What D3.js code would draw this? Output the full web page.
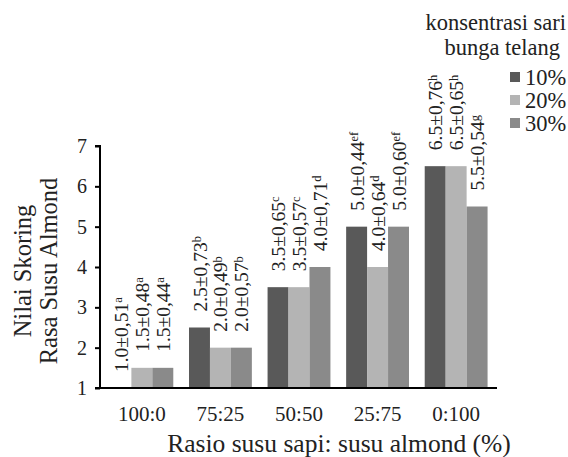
<!DOCTYPE html>
<html>
<head>
<meta charset="utf-8">
<script src="https://cdn.jsdelivr.net/npm/d3@7"></script>
<style>
  body { margin: 0; background: #fff; }
  svg { display: block; font-family: 'Liberation Serif', 'Times New Roman', serif; }
</style>
</head>
<body>
<div id="chart"></div>
<script>
// data
const ratios = ['100:0', '75:25', '50:50', '25:75', '0:100'];
const concentrations = ['10%', '20%', '30%'];
const values10 = [1.0, 2.5, 3.5, 5.0, 6.5];
const values20 = [1.5, 2.0, 3.5, 4.0, 6.5];
const values30 = [1.5, 2.0, 4.0, 5.0, 5.5];
const sd10 = ['0,51', '0,73', '0,65', '0,44', '0,76'];
const sd20 = ['0,48', '0,49', '0,57', '0,64', '0,65'];
const sd30 = ['0,44', '0,57', '0,71', '0,60', '0,54'];
const letters10 = ['a', 'b', 'c', 'ef', 'h'];
const letters20 = ['a', 'b', 'c', 'd', 'h'];
const letters30 = ['a', 'b', 'd', 'ef', 'g'];
const yTicks = [1, 2, 3, 4, 5, 6, 7];

const colors = ['#595959', '#b4b4b4', '#8a8a8a'];

const width = 568, height = 457;
const svg = d3.select('#chart')
    .append('svg')
    .attr('width', width)
    .attr('height', height);

// one row per bar
const series = [
    { values: values10, sd: sd10, letters: letters10 },
    { values: values20, sd: sd20, letters: letters20 },
    { values: values30, sd: sd30, letters: letters30 }
];
let bars = [];
ratios.forEach((r, i) => {
    series.forEach((s, j) => {
        bars.push({ ratio: r, conc: concentrations[j], value: s.values[i], sd: s.sd[i], letter: s.letters[i], k: j });
    });
});

const xScale = d3.scaleBand()
    .domain(ratios)
    .range([101, 497])
    .paddingInner(0.2)
    .paddingOuter(0.12);
const xSub = d3.scaleBand()
    .domain(concentrations)
    .range([0, xScale.bandwidth()]);
const yScale = d3.scaleLinear()
    .domain([1, 7])
    .range([388, 146]);

// bars
svg.selectAll('.bar')
    .data(bars)
    .enter()
    .append('rect')
    .attr('class', 'bar')
    .attr('x', d => xScale(d.ratio) + xSub(d.conc))
    .attr('y', d => yScale(d.value))
    .attr('width', xSub.bandwidth())
    .attr('height', d => yScale(1) - yScale(d.value))
    .attr('fill', d => colors[d.k]);

// value labels, rotated
const labels = svg.selectAll('.lbl')
    .data(bars)
    .enter()
    .append('text')
    .attr('class', 'lbl')
    .attr('transform', d => {
        const cx = xScale(d.ratio) + xSub(d.conc) + xSub.bandwidth() / 2;
        return `translate(${cx}, ${yScale(d.value) - 16}) rotate(-90)`;
    })
    .attr('dy', '0.36em')
    .style('font-size', '19.5px')
    .style('fill', '#222');
labels.append('tspan')
    .text(d => `${d.value.toFixed(1)}±${d.sd}`);
labels.append('tspan')
    .attr('dy', '-0.45em')
    .style('font-size', '12.5px')
    .text(d => d.letter);

// y axis
const yAxis = svg.append('g')
    .attr('transform', 'translate(100, 0)')
    .call(d3.axisLeft(yScale).tickValues(yTicks).tickSize(5).tickPadding(8).tickFormat(d3.format('d')));
yAxis.select('.domain').attr('stroke', '#000').attr('stroke-width', 2).attr('d', 'M-5,146H0V388');
yAxis.selectAll('.tick line').attr('stroke', '#000').attr('stroke-width', 2);
yAxis.selectAll('.tick text')
    .style('font-size', '20px')
    .style('font-family', "'Liberation Serif', serif")
    .attr('fill', '#222');

// x axis
const xAxis = svg.append('g')
    .attr('transform', 'translate(0, 388)')
    .call(d3.axisBottom(xScale).tickSize(0).tickPadding(18));
xAxis.select('.domain').attr('stroke', '#000').attr('stroke-width', 2).attr('d', 'M95,0H497');
xAxis.selectAll('.tick text')
    .style('font-size', '21px')
    .style('font-family', "'Liberation Serif', serif")
    .attr('fill', '#222');

// axis titles
svg.append('text')
    .attr('x', 339)
    .attr('y', 452)
    .attr('text-anchor', 'middle')
    .style('font-size', '25.5px')
    .style('fill', '#222')
    .text('Rasio susu sapi: susu almond (%)');

const yTitle = svg.append('text')
    .attr('transform', 'translate(0, 271) rotate(-90)')
    .attr('text-anchor', 'middle')
    .style('font-size', '24.5px')
    .style('fill', '#222');
yTitle.append('tspan').attr('x', 0).attr('y', 31).text('Nilai Skoring');
yTitle.append('tspan').attr('x', 0).attr('y', 57).text('Rasa Susu Almond');

// legend
svg.append('text')
    .attr('x', 566)
    .attr('y', 30)
    .attr('text-anchor', 'end')
    .style('font-size', '22.5px')
    .style('fill', '#222')
    .text('konsentrasi sari');
svg.append('text')
    .attr('x', 560)
    .attr('y', 55)
    .attr('text-anchor', 'end')
    .style('font-size', '22.5px')
    .style('fill', '#222')
    .text('bunga telang');

const legend = svg.selectAll('.legend')
    .data(concentrations)
    .enter()
    .append('g')
    .attr('class', 'legend')
    .attr('transform', (d, i) => `translate(510, ${72 + i * 23})`);
legend.append('rect')
    .attr('width', 10)
    .attr('height', 10)
    .attr('fill', (d, i) => colors[i]);
legend.append('text')
    .attr('x', 15)
    .attr('y', 5)
    .attr('dy', '0.35em')
    .style('font-size', '22.5px')
    .style('fill', '#222')
    .text(d => d);
</script>
</body>
</html>
